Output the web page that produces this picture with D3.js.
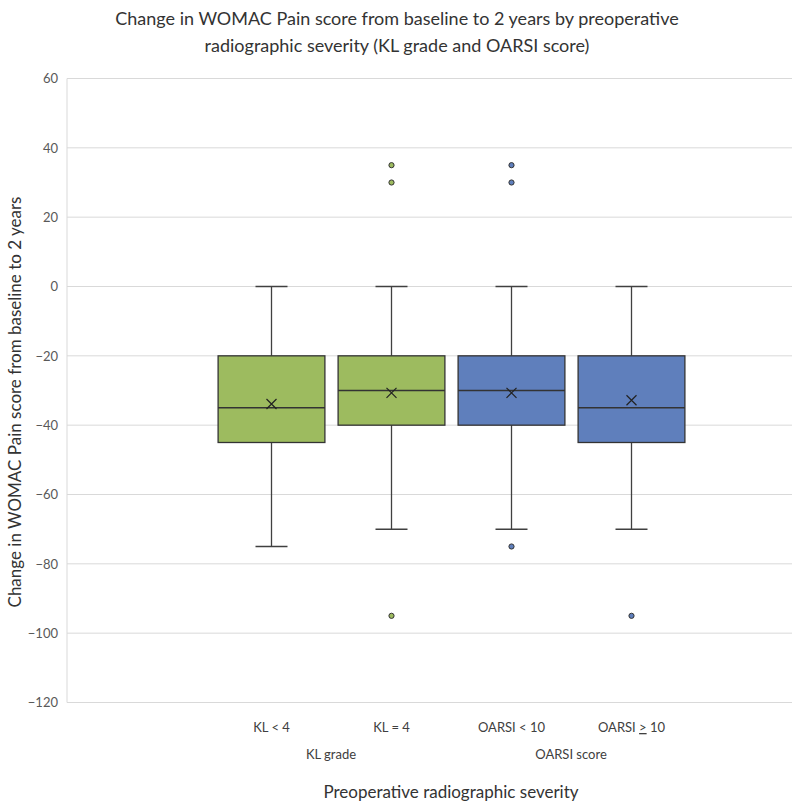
<!DOCTYPE html>
<html>
<head>
<meta charset="utf-8">
<script src="https://cdn.jsdelivr.net/npm/d3@7"></script>
<style>
  body { margin: 0; background: #fff; }
  text { font-family: Lato, "Open Sans", sans-serif; }
</style>
</head>
<body>
<svg id="chart" width="794" height="801"></svg>
<script>
// box plot values
var categories = ["KL < 4", "KL = 4", "OARSI < 10", "OARSI ≥ 10"];
var groups = ["KL grade", "OARSI score"];
var groupOf = [0, 0, 1, 1];
var whiskerLow = [-75, -70, -70, -70];
var q1 = [-45, -40, -40, -45];
var median = [-35, -30, -30, -35];
var q3 = [-20, -20, -20, -20];
var whiskerHigh = [0, 0, 0, 0];
var means = [-33.9, -30.7, -30.7, -32.8];
var outliers = [[], [35, 30, -95], [35, 30, -75], [-95]];
var yTicks = [60, 40, 20, 0, -20, -40, -60, -80, -100, -120];
var groupColors = ["#9dbb5f", "#5f7fbc"];

var svg = d3.select('#chart');

var plotLeft = 67, plotRight = 792;

var y = d3.scaleLinear().domain([-120, 60]).range([702.5, 78.5]);
var x = d3.scaleBand().domain(categories).range([211.5, 691.5]).padding(0);
var groupX = d3.scalePoint().domain(groups).range([331, 571]);

// title
var title = svg.append('text').attr('x', 397).attr('text-anchor', 'middle')
  .attr('font-size', 18).attr('fill', '#333');
title.append('tspan').attr('x', 397).attr('y', 25)
  .text('Change in WOMAC Pain score from baseline to 2 years by preoperative');
title.append('tspan').attr('x', 397).attr('y', 52)
  .text('radiographic severity (KL grade and OARSI score)');

// gridlines
svg.append('g').selectAll('line').data(yTicks).enter().append('line')
  .attr('x1', plotLeft).attr('x2', plotRight)
  .attr('y1', function(d){ return y(d); }).attr('y2', function(d){ return y(d); })
  .attr('stroke', '#d9d9d9').attr('stroke-width', 1);

svg.append('line').attr('x1', plotLeft).attr('x2', plotLeft)
  .attr('y1', y(60)).attr('y2', y(-120)).attr('stroke', '#d9d9d9');

// y axis (labels only)
var yAxis = d3.axisLeft(y).tickValues(yTicks).tickSize(0).tickPadding(9);
var gy = svg.append('g').attr('transform', 'translate(' + plotLeft + ',0)').call(yAxis);
gy.select('.domain').remove();
gy.selectAll('text').attr('font-size', 13).attr('fill', '#595959')
  .style('font-family', 'Lato, sans-serif');

// boxes
var boxW = x.bandwidth() * 0.89;
var capW = 32;
var boxes = svg.append('g').selectAll('g').data(categories).enter().append('g')
  .attr('transform', function(d){ return 'translate(' + (x(d) + x.bandwidth() / 2) + ',0)'; });

boxes.append('line')
  .attr('x1', 0).attr('x2', 0)
  .attr('y1', function(d, i){ return y(whiskerHigh[i]); })
  .attr('y2', function(d, i){ return y(q3[i]); })
  .attr('stroke', '#404040').attr('stroke-width', 1.3);
boxes.append('line')
  .attr('x1', 0).attr('x2', 0)
  .attr('y1', function(d, i){ return y(q1[i]); })
  .attr('y2', function(d, i){ return y(whiskerLow[i]); })
  .attr('stroke', '#404040').attr('stroke-width', 1.3);
boxes.append('line')
  .attr('x1', -capW / 2).attr('x2', capW / 2)
  .attr('y1', function(d, i){ return y(whiskerHigh[i]); })
  .attr('y2', function(d, i){ return y(whiskerHigh[i]); })
  .attr('stroke', '#404040').attr('stroke-width', 1.5);
boxes.append('line')
  .attr('x1', -capW / 2).attr('x2', capW / 2)
  .attr('y1', function(d, i){ return y(whiskerLow[i]); })
  .attr('y2', function(d, i){ return y(whiskerLow[i]); })
  .attr('stroke', '#404040').attr('stroke-width', 1.5);

boxes.append('rect')
  .attr('x', -boxW / 2).attr('width', boxW)
  .attr('y', function(d, i){ return y(q3[i]); })
  .attr('height', function(d, i){ return y(q1[i]) - y(q3[i]); })
  .attr('fill', function(d, i){ return groupColors[groupOf[i]]; })
  .attr('stroke', '#333').attr('stroke-width', 1.3);

boxes.append('line')
  .attr('x1', -boxW / 2).attr('x2', boxW / 2)
  .attr('y1', function(d, i){ return y(median[i]); })
  .attr('y2', function(d, i){ return y(median[i]); })
  .attr('stroke', '#333').attr('stroke-width', 1.5);

// mean marker (x)
var m = 5;
boxes.append('path')
  .attr('d', function(d, i){
    var my = y(means[i]);
    return 'M' + (-m) + ',' + (my - m) + 'L' + m + ',' + (my + m) +
           'M' + (-m) + ',' + (my + m) + 'L' + m + ',' + (my - m);
  })
  .attr('stroke', '#222').attr('stroke-width', 1.2).attr('fill', 'none');

// outliers
boxes.each(function(d, i){
  d3.select(this).selectAll('circle').data(outliers[i]).enter().append('circle')
    .attr('cx', 0).attr('cy', function(v){ return y(v); }).attr('r', 2.6)
    .attr('fill', groupColors[groupOf[i]]).attr('stroke', '#333').attr('stroke-width', 1);
});

// category labels
var catLabels = svg.append('g').selectAll('text').data(categories).enter().append('text')
  .attr('x', function(d){ return x(d) + x.bandwidth() / 2; }).attr('y', 732)
  .attr('text-anchor', 'middle').attr('font-size', 13).attr('fill', '#404040');
catLabels.each(function(d){
  var t = d3.select(this);
  if (d.indexOf('≥') >= 0) {
    var parts = d.split('≥');
    t.append('tspan').text(parts[0]);
    t.append('tspan').style('text-decoration', 'underline').text('>');
    t.append('tspan').text(parts[1]);
  } else {
    t.text(d);
  }
});

svg.append('g').selectAll('text').data(groups).enter().append('text')
  .attr('x', function(d){ return groupX(d); }).attr('y', 759)
  .attr('text-anchor', 'middle').attr('font-size', 13).attr('fill', '#404040')
  .text(function(d){ return d; });

// axis titles
svg.append('text').attr('x', 451).attr('y', 798).attr('text-anchor', 'middle')
  .attr('font-size', 17).attr('fill', '#333')
  .text('Preoperative radiographic severity');

svg.append('text').attr('transform', 'translate(21,402) rotate(-90)')
  .attr('text-anchor', 'middle').attr('font-size', 17).attr('fill', '#333')
  .text('Change in WOMAC Pain score from baseline to 2 years');
</script>
</body>
</html>
